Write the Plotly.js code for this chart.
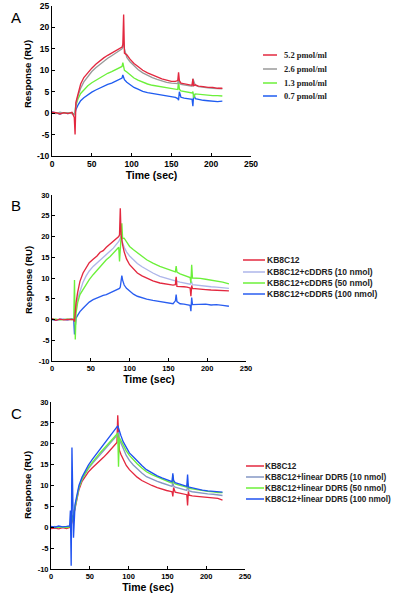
<!DOCTYPE html>
<html>
<head>
<meta charset="utf-8">
<script src="https://cdn.plot.ly/plotly-3.0.1.min.js"></script>
<style>
html,body{margin:0;padding:0;background:#fff;}
#chart{width:400px;height:599px;}
</style>
</head>
<body>
<div id="chart"></div>
<script>
// ---------- DATA ----------
const panelLabels = ["A", "B", "C"];
const xTitle = "Time (sec)";
const yTitle = "Response (RU)";
const xTicks = [0, 50, 100, 150, 200, 250];

// Panel A
const namesA = ["5.2 pmol/ml", "2.6 pmol/ml", "1.3 pmol/ml", "0.7 pmol/ml"];
const tA = [0,5,10,15,20,25,28,29,30,33,36,40,45,50,55,60,65,70,75,80,85,88,89,90,91,94,98,103,108,114,120,126,132,138,144,150,155,158,159,160,162,166,170,174,176,177,178,180,184,190,196,202,208,214];
const redA = [0.2,0.1,-0.2,0.1,-0.1,0.2,-1.0,-5.0,2.5,5.0,6.8,8.3,9.5,10.5,11.4,12.2,12.9,13.5,14.0,14.6,15.2,15.4,16.0,23.0,14.0,13.6,12.6,11.6,10.9,10.0,9.4,8.9,8.4,8.0,7.7,7.4,7.4,7.6,9.5,7.6,7.0,6.9,6.8,6.6,6.5,8.0,6.4,6.6,6.3,6.2,6.0,6.0,5.8,5.8];
const grayA = [0.1,-0.1,0.2,0.0,0.1,-0.1,-0.3,0.5,2.0,4.2,5.8,7.3,8.6,9.7,10.6,11.4,12.1,12.8,13.4,14.0,14.6,15.0,15.5,16.5,15.0,13.0,12.0,11.0,10.2,9.4,8.8,8.3,7.9,7.5,7.2,7.0,6.9,6.9,7.8,7.0,6.7,6.6,6.5,6.4,6.3,8.0,7.5,6.5,6.2,6.0,5.9,5.8,5.7,5.7];
const greenA = [0.0,0.1,-0.1,0.1,0.0,0.1,-0.3,0.3,1.8,3.5,4.6,5.5,6.4,7.1,7.7,8.3,8.8,9.3,9.7,10.1,10.6,10.9,11.8,10.5,10.0,9.6,8.9,8.2,7.7,7.2,6.8,6.5,6.3,6.1,5.9,5.7,5.6,5.5,7.5,5.6,5.2,5.1,5.0,4.8,4.7,5.0,3.6,4.5,4.4,4.3,4.2,4.1,4.1,4.0];
const blueA = [0.3,0.0,-0.2,0.1,-0.1,0.1,-0.3,0.0,0.8,2.0,2.9,3.6,4.3,4.9,5.4,5.9,6.3,6.7,7.0,7.4,7.9,8.2,8.9,8.0,7.8,7.2,6.6,6.0,5.6,5.1,4.8,4.6,4.4,4.2,4.0,3.8,3.7,3.4,3.0,5.0,3.7,3.5,3.4,3.3,3.2,1.6,4.5,3.4,3.2,3.0,2.9,2.8,2.7,2.8];

// Panel B
const namesB = ["KB8C12", "KB8C12+cDDR5 (10 nmol)", "KB8C12+cDDR5 (50 nmol)", "KB8C12+cDDR5 (100 nmol)"];
const tB = [0,5,10,15,20,25,28,29,30,31,33,36,40,44,48,53,58,62,66,70,75,79,83,86,87,88,89,90,91,93,96,100,105,110,116,122,130,139,148,156,159,160,161,165,170,174,177,178,179,180,181,185,191,198,205,212,220,228];
const redB = [0.2,-0.2,0.1,-0.1,0.0,0.1,0.0,-0.5,2.0,4.0,6.5,9.2,11.2,12.6,13.7,14.5,15.3,16.2,16.6,17.4,18.2,18.8,19.5,20.0,20.4,26.8,20.5,18.8,18.0,16.3,14.6,13.2,12.1,11.2,10.5,9.9,9.3,8.8,8.5,8.3,8.4,10.3,8.0,8.0,7.9,7.8,7.7,7.6,5.6,8.2,7.5,7.4,7.3,7.2,7.1,7.0,7.0,6.9];
const lavB = [0.1,0.0,-0.1,0.1,0.0,0.1,0.0,-0.3,1.5,3.0,5.0,7.0,9.0,10.5,11.7,12.8,13.6,14.2,15.0,15.7,16.5,17.2,18.0,18.8,19.2,19.6,20.0,19.0,18.4,17.4,16.3,15.3,14.4,13.5,12.7,12.0,11.2,10.4,9.9,9.4,9.3,9.8,9.2,9.0,8.8,8.6,8.5,8.5,8.8,9.0,8.4,8.3,8.1,8.0,7.9,7.8,7.6,7.5];
const greenB = [0.0,0.1,-0.1,0.0,0.1,0.0,0.0,9.5,-4.8,1.5,4.0,6.0,7.3,8.4,9.6,10.8,11.9,12.8,13.6,14.4,15.2,16.0,16.7,17.4,14.0,18.8,19.8,23.2,19.5,19.6,18.8,17.6,16.8,16.1,15.2,14.4,13.6,12.8,12.2,11.6,11.5,12.9,11.4,11.0,10.7,10.4,10.2,10.1,8.8,13.2,10.0,10.0,9.9,9.7,9.5,9.4,9.0,8.6];
const blueB = [0.0,-0.2,0.1,0.0,-0.1,0.1,0.0,-3.6,-0.6,0.3,1.0,1.9,2.7,3.5,4.2,4.8,5.2,5.6,5.8,6.0,6.4,6.8,7.2,7.3,7.5,7.8,9.0,10.6,9.5,8.3,7.5,6.8,6.1,5.6,5.2,4.9,4.6,4.3,4.0,3.8,4.5,6.0,4.3,3.8,3.7,3.6,3.5,3.4,2.0,5.3,3.6,3.6,3.6,3.7,3.5,3.6,3.4,3.2];

// Panel C
const namesC = ["KB8C12", "KB8C12+linear DDR5 (10 nmol)", "KB8C12+linear DDR5 (50 nmol)", "KB8C12+linear DDR5 (100 nmol)"];
const tC = [0,5,10,15,20,24,25,26,27,28,29,31,33,36,40,44,48,53,58,63,68,73,78,82,85,86,87,88,90,93,97,101,106,111,117,123,130,137,143,149,154,156,157,158,160,165,170,174,175,176,177,178,182,188,195,202,209,215,221];
const redC = [-0.3,-0.2,-0.4,-0.1,-0.3,-0.2,0.0,0.5,1.5,2.0,2.8,4.5,6.5,9.0,11.0,12.2,13.2,14.2,15.0,15.8,16.8,17.8,18.9,19.6,20.3,26.8,20.2,18.5,17.5,16.2,14.8,13.8,12.8,12.0,11.2,10.6,10.0,9.5,9.1,8.8,8.6,8.5,7.4,9.5,8.4,8.2,8.0,7.9,7.8,5.2,8.6,7.7,7.5,7.4,7.3,7.2,7.1,6.9,6.5];
const grayC = [0.0,0.2,-0.1,0.1,0.0,0.1,0.3,1.0,2.0,2.5,3.0,5.0,7.0,9.5,11.5,12.8,14.0,15.2,16.3,17.3,18.3,19.5,20.6,21.3,22.0,22.5,22.8,21.0,20.0,18.9,17.2,16.0,14.9,14.0,13.0,12.1,11.5,11.0,10.6,10.2,9.9,9.8,10.8,9.9,9.6,9.3,9.0,8.9,8.8,9.8,8.8,8.7,8.5,8.3,8.1,8.0,7.9,7.8,7.6];
const greenC = [0.1,-0.1,0.0,0.1,-0.1,0.0,0.2,0.8,2.0,2.6,3.0,5.0,7.0,9.5,11.5,12.9,14.2,15.5,16.7,17.8,18.8,19.8,20.8,21.6,22.3,22.5,14.5,21.5,20.8,19.7,18.3,17.2,16.1,15.2,14.2,13.3,12.6,12.0,11.5,11.0,10.7,10.6,12.5,10.8,10.4,10.1,9.8,9.6,9.6,10.5,9.4,9.3,9.2,9.0,8.8,8.6,8.5,8.3,8.3];
const blueC = [0.2,0.0,0.3,0.1,0.2,0.3,4.0,-9.2,19.1,3.0,-2.5,5.5,7.5,10.0,12.0,13.5,14.8,16.2,17.4,18.5,19.8,21.0,22.2,23.2,24.0,24.3,23.8,23.0,22.0,20.5,19.0,17.8,16.9,15.9,14.8,13.8,13.0,12.3,11.8,11.3,11.0,10.9,12.9,11.2,10.7,10.4,10.1,9.9,9.8,12.6,9.7,9.6,9.4,9.2,8.9,8.7,8.6,8.5,8.4];

// ---------- STYLE ----------
const W = 400, H = 599;
const colA = ["#e3283f", "#9a9a9a", "#6cf03a", "#1f5cf0"];
const colB = ["#e3283f", "#aeb6ea", "#6cf03a", "#2a5ef0"];
const colC = ["#e3283f", "#8597c4", "#6cf03a", "#1f52f0"];

// pixel boxes of each plot area [left, right, top, bottom]
const boxes = [[52, 251, 6, 156], [52, 246, 195, 361], [51, 245, 402, 569]];
const yRanges = [[-10, 25], [-10, 30], [-10, 30]];
const tickSizes = [8.5, 7.5, 7.5];
const yTitlePos = [[28, 74], [28, 280], [27, 485]];

const sans = "Liberation Sans, Arial, sans-serif";
const serif = "Liberation Serif, Times New Roman, serif";

function px2x(p){ return p / W; }
function px2y(p){ return 1 - p / H; }

const panels = [
  {t: tA, ys: [blueA, greenA, grayA, redA], names: [namesA[3], namesA[2], namesA[1], namesA[0]], cols: [colA[3], colA[2], colA[1], colA[0]]},
  {t: tB, ys: [lavB, blueB, greenB, redB], names: [namesB[1], namesB[3], namesB[2], namesB[0]], cols: [colB[1], colB[3], colB[2], colB[0]]},
  {t: tC, ys: [redC, grayC, greenC, blueC], names: [namesC[0], namesC[1], namesC[2], namesC[3]], cols: [colC[0], colC[1], colC[2], colC[3]]}
];

const traces = [];
panels.forEach((p, i) => {
  const sfx = i === 0 ? "" : String(i + 1);
  p.ys.forEach((y, k) => {
    traces.push({
      type: "scatter", mode: "lines",
      x: p.t, y: y, name: p.names[k],
      xaxis: "x" + sfx, yaxis: "y" + sfx,
      line: {color: p.cols[k], width: 1.35},
      showlegend: false, hoverinfo: "skip"
    });
  });
});

const layout = {
  width: W, height: H,
  margin: {l: 0, r: 0, t: 0, b: 0},
  paper_bgcolor: "#ffffff", plot_bgcolor: "rgba(0,0,0,0)",
  showlegend: false,
  font: {family: sans, color: "#000"},
  annotations: [], shapes: []
};

boxes.forEach((b, i) => {
  const sfx = i === 0 ? "" : String(i + 1);
  const tf = {family: sans, size: tickSizes[i], color: "#000", weight: "bold"};
  layout["xaxis" + sfx] = {
    domain: [px2x(b[0]), px2x(b[1])], anchor: "y" + sfx,
    range: [0, 250], tickvals: xTicks, ticktext: xTicks.map(String),
    showline: true, linecolor: "#000", linewidth: 1,
    ticks: "inside", ticklen: 3, tickcolor: "#000",
    showgrid: false, zeroline: false, automargin: false,
    tickfont: tf,
    title: {text: xTitle, font: {family: sans, size: 10.5, weight: "bold", color: "#000"}, standoff: 2}
  };
  const yr = yRanges[i];
  const yt = []; for (let v = yr[0]; v <= yr[1]; v += 5) yt.push(v);
  layout["yaxis" + sfx] = {
    domain: [px2y(b[3]), px2y(b[2])], anchor: "x" + sfx,
    range: yr, tickvals: yt, ticktext: yt.map(String),
    showline: true, linecolor: "#000", linewidth: 1,
    ticks: "inside", ticklen: 3, tickcolor: "#000",
    showgrid: false, zeroline: false, automargin: false,
    tickfont: tf
  };
  layout.annotations.push({
    xref: "paper", yref: "paper", x: px2x(yTitlePos[i][0]), y: px2y(yTitlePos[i][1]),
    xanchor: "center", yanchor: "middle", showarrow: false, textangle: -90,
    text: yTitle, font: {family: sans, size: 9.5, weight: "bold", color: "#000"}
  });
  layout.annotations.push({
    xref: "paper", yref: "paper", x: px2x(9), y: px2y(b[2] + 11),
    xanchor: "left", yanchor: "middle", showarrow: false,
    text: panelLabels[i], font: {family: sans, size: 15, color: "#000"}
  });
});

// legends
const legends = [
  {names: namesA, cols: colA, rows: [55, 69, 83, 96], x0: 263, x1: 277, tx: 282, font: {family: serif, size: 8.5, weight: "bold", color: "#222"}},
  {names: namesB, cols: colB, rows: [260, 272, 283, 294], x0: 243, x1: 265, tx: 265, font: {family: sans, size: 8.5, weight: "bold", color: "#222"}},
  {names: namesC, cols: colC, rows: [466, 477, 488, 499], x0: 246, x1: 264, tx: 263, font: {family: sans, size: 8.2, weight: "bold", color: "#222"}}
];
legends.forEach(lg => {
  lg.names.forEach((nm, k) => {
    layout.shapes.push({
      type: "line", xref: "paper", yref: "paper",
      x0: px2x(lg.x0), x1: px2x(lg.x1), y0: px2y(lg.rows[k]), y1: px2y(lg.rows[k]),
      line: {color: lg.cols[k], width: 1.5}
    });
    layout.annotations.push({
      xref: "paper", yref: "paper", x: px2x(lg.tx), y: px2y(lg.rows[k]),
      xanchor: "left", yanchor: "middle", showarrow: false,
      text: nm, font: lg.font
    });
  });
});

Plotly.newPlot("chart", traces, layout, {staticPlot: true, displayModeBar: false});
</script>
</body>
</html>
